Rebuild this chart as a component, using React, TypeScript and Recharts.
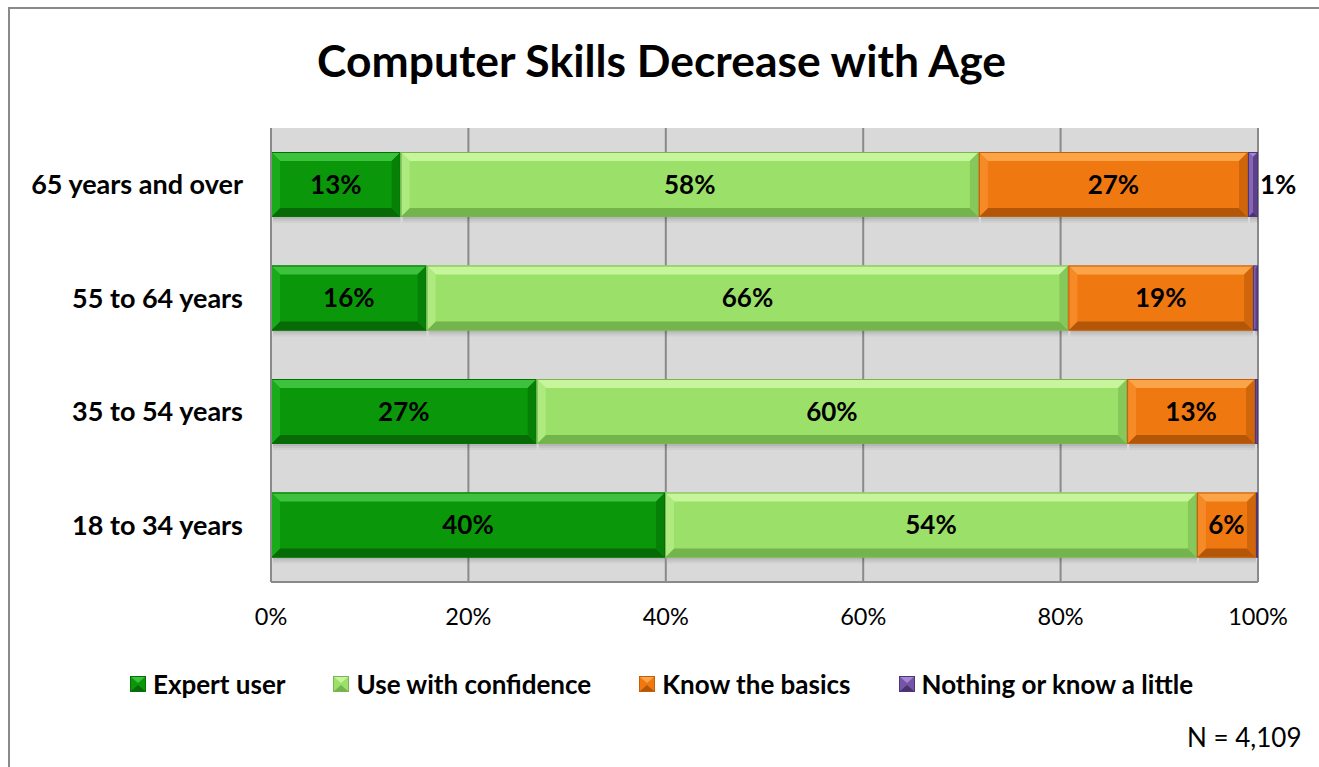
import React from 'react';
import { BarChart, Bar, XAxis, YAxis, CartesianGrid } from 'recharts';

// Age groups, top to bottom
const categories = ['65 years and over', '55 to 64 years', '35 to 54 years', '18 to 34 years'];

// Share of respondents per skill level (%)
const expertUser = [13, 16, 27, 40];
const useWithConfidence = [58, 66, 60, 54];
const knowTheBasics = [27, 19, 13, 6];
const nothingOrLittle = [1, 0.5, 0.3, 0.2];

const valueTicks = [0, 0.2, 0.4, 0.6, 0.8, 1];

const chartData = categories.map((category, i) => ({
    category,
    expert: expertUser[i],
    confident: useWithConfidence[i],
    basics: knowTheBasics[i],
    nothing: nothingOrLittle[i],
}));

const FONT = 'Lato, "Open Sans", sans-serif';

type Palette = { base: string; light: string; dark: string; left: string; right: string; edge: string };

const series: { key: string; name: string; values: number[]; palette: Palette }[] = [
    {
        key: 'expert', name: 'Expert user', values: expertUser,
        palette: { base: '#0a980a', light: '#3dc23d', dark: '#066a06', left: '#19ab19', right: '#078007', edge: '#057005' },
    },
    {
        key: 'confident', name: 'Use with confidence', values: useWithConfidence,
        palette: { base: '#9be068', light: '#c6f59b', dark: '#74b44c', left: '#aeea80', right: '#86c85a', edge: '#79b553' },
    },
    {
        key: 'basics', name: 'Know the basics', values: knowTheBasics,
        palette: { base: '#f07810', light: '#fba548', dark: '#b35608', left: '#f68a26', right: '#d0660b', edge: '#c0600a' },
    },
    {
        key: 'nothing', name: 'Nothing or know a little', values: nothingOrLittle,
        palette: { base: '#7556a6', light: '#a486d4', dark: '#4a3170', left: '#8465b6', right: '#5c4188', edge: '#4d3578' },
    },
];

// Excel-like bevelled block with a soft shadow underneath
function bevelShape(p: Palette) {
    return (props: any) => {
        const { x, y, width, height } = props;
        if (!width || width <= 0 || !height) return <g />;
        const b = Math.min(9, width / 2, height / 2);
        const x2 = x + width;
        const y2 = y + height;
        return (
            <g>
                <rect x={x + 2} y={y2} width={Math.max(width - 2, 0)} height={2} fill="#000" opacity={0.16} />
                <rect x={x + 2} y={y2 + 2} width={Math.max(width - 2, 0)} height={2} fill="#000" opacity={0.09} />
                <rect x={x + 2} y={y2 + 4} width={Math.max(width - 2, 0)} height={2} fill="#000" opacity={0.04} />
                <rect x={x} y={y} width={width} height={height} fill={p.base} />
                <polygon points={`${x},${y} ${x2},${y} ${x2 - b},${y + b} ${x + b},${y + b}`} fill={p.light} />
                <polygon points={`${x},${y2} ${x2},${y2} ${x2 - b},${y2 - b} ${x + b},${y2 - b}`} fill={p.dark} />
                <polygon points={`${x},${y} ${x + b},${y + b} ${x + b},${y2 - b} ${x},${y2}`} fill={p.left} />
                <polygon points={`${x2},${y} ${x2 - b},${y + b} ${x2 - b},${y2 - b} ${x2},${y2}`} fill={p.right} />
                <rect x={x + 0.5} y={y + 0.5} width={Math.max(width - 1, 0)} height={height - 1} fill="none" stroke={p.edge} strokeWidth={1} />
            </g>
        );
    };
}

function segmentLabel(values: number[], outside: boolean) {
    return (props: any) => {
        const vb = props.viewBox || {};
        const x = Number(props.x ?? vb.x);
        const y = Number(props.y ?? vb.y);
        const width = Number(props.width ?? vb.width);
        const height = Number(props.height ?? vb.height);
        const v = values[props.index];
        if (v === undefined || v < 1) return <g />;
        const text = `${Math.round(v)}%`;
        return (
            <text
                x={outside ? x + width + 2 : x + width / 2}
                y={y + height / 2}
                dy="0.36em"
                textAnchor={outside ? 'start' : 'middle'}
                fontFamily={FONT}
                fontWeight={700}
                fontSize={26}
                fill="#000"
            >
                {text}
            </text>
        );
    };
}

const CategoryTick = (props: any) => {
    const { x, y, payload } = props;
    return (
        <text x={x} y={y} dy="0.36em" textAnchor="end" fontFamily={FONT} fontWeight={700} fontSize={27} fill="#000">
            {payload.value}
        </text>
    );
};

function LegendSwatch({ p }: { p: Palette }) {
    return (
        <svg width={16} height={16} style={{ display: 'block' }}>
            <rect x={0} y={0} width={16} height={16} fill={p.base} />
            <polygon points="0,0 16,0 8,7" fill={p.light} />
            <polygon points="0,16 16,16 8,9" fill={p.dark} />
            <rect x={0.5} y={0.5} width={15} height={15} fill="none" stroke={p.edge} />
        </svg>
    );
}

export default function App() {
    return (
        <div
            style={{
                position: 'fixed',
                left: 8,
                top: 7,
                width: 1360,
                height: 800,
                borderTop: '2px solid #8a8a8a',
                borderLeft: '2px solid #8a8a8a',
                background: '#fff',
                fontFamily: FONT,
            }}
        >
            <div
                style={{
                    position: 'absolute', top: 27, left: 0, width: 1303, textAlign: 'center',
                    fontSize: 44.4, fontWeight: 700, lineHeight: '48px', color: '#000',
                }}
            >
                Computer Skills Decrease with Age
            </div>

            <div style={{ position: 'absolute', left: 0, top: 1 }}>
                <BarChart
                    width={1330}
                    height={751}
                    data={chartData}
                    layout="vertical"
                    stackOffset="expand"
                    barSize={65}
                    margin={{ top: 118, right: 82, bottom: 139, left: 0 }}
                >
                    <CartesianGrid horizontal={false} stroke="#8a8a8a" strokeWidth={2} fill="#d9d9d9" />
                    <XAxis
                        type="number"
                        domain={[0, 1]}
                        ticks={valueTicks}
                        tickFormatter={(v: number) => `${Math.round(v * 100)}%`}
                        axisLine={{ stroke: '#8a8a8a', strokeWidth: 2 }}
                        tickLine={false}
                        tickSize={0}
                        tickMargin={26}
                        height={40}
                        tick={{ fill: '#000', fontSize: 23.5, fontFamily: FONT }}
                    />
                    <YAxis
                        type="category"
                        dataKey="category"
                        width={261}
                        axisLine={{ stroke: '#8a8a8a', strokeWidth: 2 }}
                        tickLine={false}
                        tickSize={0}
                        tickMargin={28}
                        tick={<CategoryTick />}
                    />
                    {series.map((s) => (
                        <Bar
                            key={s.key}
                            dataKey={s.key}
                            name={s.name}
                            stackId="skills"
                            fill={s.palette.base}
                            shape={bevelShape(s.palette)}
                            label={segmentLabel(s.values, s.key === 'nothing')}
                            isAnimationActive={false}
                        />
                    ))}
                </BarChart>
            </div>

            {/* Legend */}
            <div
                style={{
                    position: 'absolute', top: 660, left: 0, width: 1303,
                    display: 'flex', justifyContent: 'center', alignItems: 'center', gap: 48,
                }}
            >
                {series.map((s) => (
                    <div key={s.key} style={{ display: 'flex', alignItems: 'center', gap: 7 }}>
                        <LegendSwatch p={s.palette} />
                        <span style={{ fontSize: 26, fontWeight: 700, color: '#000', lineHeight: '30px' }}>{s.name}</span>
                    </div>
                ))}
            </div>

            <div style={{ position: 'absolute', top: 713, left: 1177, fontSize: 26, color: '#000', lineHeight: '30px' }}>
                N = 4,109
            </div>
        </div>
    );
}
